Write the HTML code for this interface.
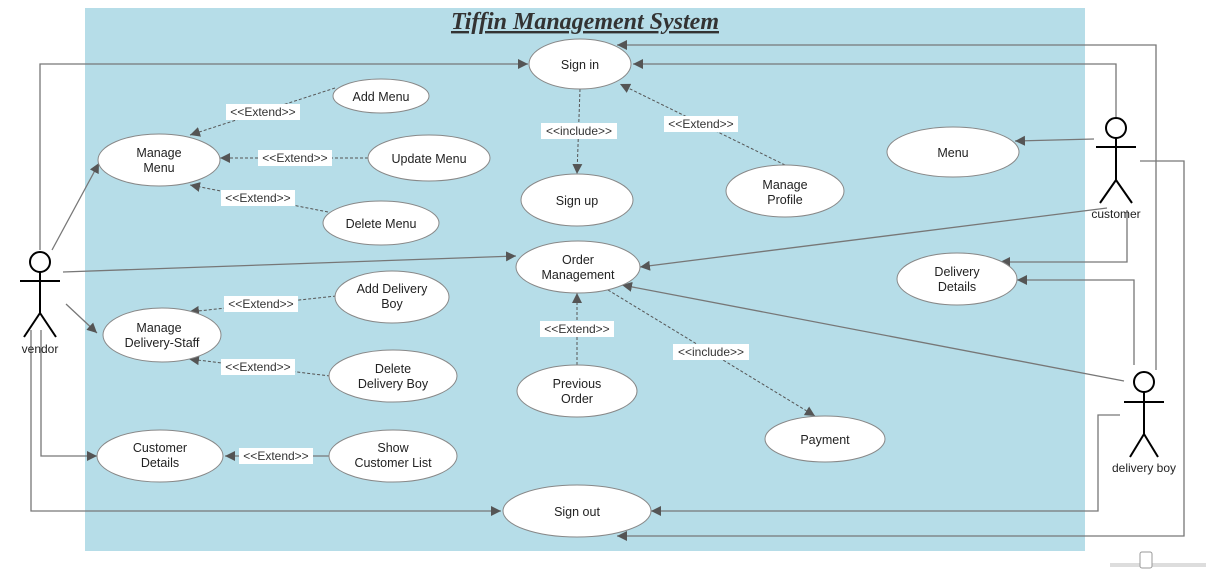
<!DOCTYPE html>
<html><head><meta charset="utf-8"><style>
html,body{margin:0;padding:0;background:#fff;}
svg{display:block;font-family:"Liberation Sans",sans-serif;}
</style></head><body>
<svg width="1206" height="574" viewBox="0 0 1206 574" xmlns="http://www.w3.org/2000/svg">
<defs>
<marker id="a" viewBox="0 0 10 10" refX="10" refY="5" markerWidth="10" markerHeight="10" markerUnits="userSpaceOnUse" orient="auto"><path d="M0,0 L10,5 L0,10 z" fill="#555"/></marker>
</defs>
<rect x="85" y="8" width="1000" height="543" fill="#b6dde8"/>
<text x="585" y="29" text-anchor="middle" font-family="Liberation Serif,serif" font-style="italic" font-weight="bold" font-size="24" fill="#333" text-decoration="underline">Tiffin Management System</text>

<g fill="none" stroke="#777" stroke-width="1.3" marker-end="url(#a)">
<polyline points="40,250 40,64 528,64"/>
<line x1="52" y1="250" x2="99" y2="163"/>
<line x1="63" y1="272" x2="516" y2="256"/>
<line x1="66" y1="304" x2="97" y2="333"/>
<polyline points="41,330 41,456 97,456"/>
<polyline points="31,330 31,511 501,511"/>
<polyline points="1116,117 1116,64 633,64"/>
<polyline points="1156,370 1156,45 617,45"/>
<line x1="1094" y1="139" x2="1015" y2="141"/>
<line x1="1107" y1="208" x2="640" y2="267"/>
<polyline points="1127,210 1127,262 1000,262"/>
<polyline points="1134,365 1134,280 1017,280"/>
<line x1="1124" y1="381" x2="622" y2="285"/>
<polyline points="1120,415 1098,415 1098,511 651,511"/>
<polyline points="1140,161 1184,161 1184,536 617,536"/>
<line x1="329" y1="456" x2="225" y2="456"/>
</g>
<g fill="none" stroke="#555" stroke-width="1" stroke-dasharray="3,2" marker-end="url(#a)">
<line x1="335" y1="88" x2="190" y2="135"/>
<line x1="368" y1="158" x2="220" y2="158"/>
<line x1="328" y1="212" x2="190" y2="185"/>
<line x1="580" y1="89" x2="577" y2="174"/>
<line x1="785" y1="165" x2="620" y2="84"/>
<line x1="336" y1="296" x2="189" y2="312"/>
<line x1="330" y1="376" x2="189" y2="359"/>
<line x1="577" y1="365" x2="577" y2="293"/>
<line x1="608" y1="290" x2="815" y2="416"/>
</g>

<g font-size="12" fill="#333" text-anchor="middle">
<rect x="226" y="104" width="74" height="16" fill="#fff"/><text x="263" y="116">&lt;&lt;Extend&gt;&gt;</text>
<rect x="258" y="150" width="74" height="16" fill="#fff"/><text x="295" y="162">&lt;&lt;Extend&gt;&gt;</text>
<rect x="221" y="190" width="74" height="16" fill="#fff"/><text x="258" y="202">&lt;&lt;Extend&gt;&gt;</text>
<rect x="541" y="123" width="76" height="16" fill="#fff"/><text x="579" y="135">&lt;&lt;include&gt;&gt;</text>
<rect x="664" y="116" width="74" height="16" fill="#fff"/><text x="701" y="128">&lt;&lt;Extend&gt;&gt;</text>
<rect x="224" y="296" width="74" height="16" fill="#fff"/><text x="261" y="308">&lt;&lt;Extend&gt;&gt;</text>
<rect x="221" y="359" width="74" height="16" fill="#fff"/><text x="258" y="371">&lt;&lt;Extend&gt;&gt;</text>
<rect x="540" y="321" width="74" height="16" fill="#fff"/><text x="577" y="333">&lt;&lt;Extend&gt;&gt;</text>
<rect x="673" y="344" width="76" height="16" fill="#fff"/><text x="711" y="356">&lt;&lt;include&gt;&gt;</text>
<rect x="239" y="448" width="74" height="16" fill="#fff"/><text x="276" y="460">&lt;&lt;Extend&gt;&gt;</text>
</g>

<g fill="#fff" stroke="#888" stroke-width="1">
<ellipse cx="580" cy="64" rx="51" ry="25"/>
<ellipse cx="381" cy="96" rx="48" ry="17"/>
<ellipse cx="159" cy="160" rx="61" ry="26"/>
<ellipse cx="429" cy="158" rx="61" ry="23"/>
<ellipse cx="381" cy="223" rx="58" ry="22"/>
<ellipse cx="577" cy="200" rx="56" ry="26"/>
<ellipse cx="785" cy="191" rx="59" ry="26"/>
<ellipse cx="953" cy="152" rx="66" ry="25"/>
<ellipse cx="578" cy="267" rx="62" ry="26"/>
<ellipse cx="957" cy="279" rx="60" ry="26"/>
<ellipse cx="392" cy="297" rx="57" ry="26"/>
<ellipse cx="162" cy="335" rx="59" ry="27"/>
<ellipse cx="393" cy="376" rx="64" ry="26"/>
<ellipse cx="577" cy="391" rx="60" ry="26"/>
<ellipse cx="825" cy="439" rx="60" ry="23"/>
<ellipse cx="160" cy="456" rx="63" ry="26"/>
<ellipse cx="393" cy="456" rx="64" ry="26"/>
<ellipse cx="577" cy="511" rx="74" ry="26"/>
</g>
<g font-size="12.5" fill="#222" text-anchor="middle">
<text x="580" y="69">Sign in</text>
<text x="381" y="101">Add Menu</text>
<text x="159" y="157">Manage</text><text x="159" y="172">Menu</text>
<text x="429" y="163">Update Menu</text>
<text x="381" y="228">Delete Menu</text>
<text x="577" y="205">Sign up</text>
<text x="785" y="189">Manage</text><text x="785" y="204">Profile</text>
<text x="953" y="157">Menu</text>
<text x="578" y="264">Order</text><text x="578" y="279">Management</text>
<text x="957" y="276">Delivery</text><text x="957" y="291">Details</text>
<text x="392" y="293">Add Delivery</text><text x="392" y="308">Boy</text>
<text x="159" y="332">Manage</text><text x="162" y="347">Delivery-Staff</text>
<text x="393" y="373">Delete</text><text x="393" y="388">Delivery Boy</text>
<text x="577" y="388">Previous</text><text x="577" y="403">Order</text>
<text x="825" y="444">Payment</text>
<text x="160" y="452">Customer</text><text x="160" y="467">Details</text>
<text x="393" y="452">Show</text><text x="393" y="467">Customer List</text>
<text x="577" y="516">Sign out</text>
</g>

<g fill="none" stroke="#000" stroke-width="2">
<circle cx="40" cy="262" r="10"/>
<line x1="40" y1="272" x2="40" y2="313"/><line x1="20" y1="281" x2="60" y2="281"/>
<polyline points="24,337 40,313 56,337"/>
<circle cx="1116" cy="128" r="10"/>
<line x1="1116" y1="138" x2="1116" y2="180"/><line x1="1096" y1="147" x2="1136" y2="147"/>
<polyline points="1100,203 1116,180 1132,203"/>
<circle cx="1144" cy="382" r="10"/>
<line x1="1144" y1="392" x2="1144" y2="434"/><line x1="1124" y1="402" x2="1164" y2="402"/>
<polyline points="1130,457 1144,434 1158,457"/>
</g>
<g font-size="12" fill="#222" text-anchor="middle">
<text x="40" y="353">vendor</text>
<text x="1116" y="218">customer</text>
<text x="1144" y="472">delivery boy</text>
</g>
<rect x="1110" y="563" width="96" height="4" fill="#ddd"/>
<rect x="1140" y="552" width="12" height="16" rx="2" fill="#fff" stroke="#999"/>
</svg>
</body></html>
